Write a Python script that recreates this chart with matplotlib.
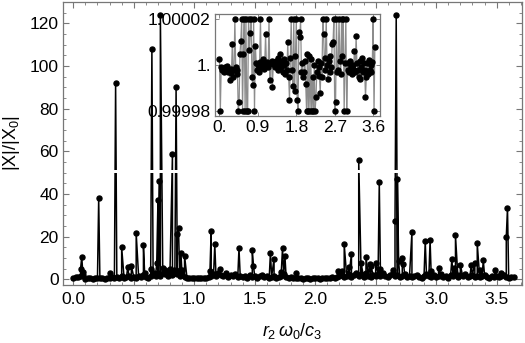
import matplotlib
matplotlib.use('Agg')
import matplotlib.pyplot as plt
import numpy as np
from matplotlib.ticker import MultipleLocator

plt.rcParams['font.family'] = ['Liberation Sans', 'DejaVu Sans']
plt.rcParams['mathtext.fontset'] = 'custom'
plt.rcParams['mathtext.rm'] = 'Liberation Sans'
plt.rcParams['mathtext.it'] = 'Liberation Sans:italic'

# main curve: background level sampled every 0.02 in r2*w0/c3
base_step = 0.02
base_y = [0.8, 1.0, 1.2, 1.5, 2.0,
          0.4, 0.5, 0.6, 0.4, 0.7, 0.5, 0.6, 0.5, 0.4, 0.8, 0.6,
          1.0, 0.6, 1.2, 0.8, 1.5, 0.7, 1.1, 1.8, 0.9,
          1.3, 0.8, 1.6, 1.0, 2.2, 1.2, 0.9, 1.8, 2.5, 1.4, 2.8,
          1.5, 3.2, 2.4, 1.8, 3.5, 2.2, 3.0, 2.6, 1.5, 2.0, 1.0, 0.8,
          0.5, 0.7, 0.6, 0.5, 0.8, 0.6, 0.5, 0.9, 1.2,
          1.8, 2.5, 1.5, 3.0, 2.2, 1.6, 2.8, 1.2, 2.0, 1.5, 2.6, 1.0, 1.8, 1.3,
          1.5, 0.9, 2.0, 1.2, 1.6, 0.8, 1.4, 2.2, 1.0, 1.5, 0.8, 1.3, 1.8, 0.9, 1.2, 1.6, 2.4, 1.1,
          0.8, 1.0, 0.6, 0.7, 0.5, 0.6, 0.4, 0.5, 0.6, 0.4, 0.5, 0.7, 0.5, 0.4, 0.6, 0.5, 0.8, 0.6, 1.0, 0.8, 1.2,
          1.5, 2.2, 1.0, 1.8, 2.5, 1.3, 2.0, 3.0, 1.6, 2.4, 1.2, 2.8, 1.8, 1.0, 2.2,
          1.5, 2.6, 1.4, 3.2, 1.8, 1.1, 2.0, 2.8, 1.5, 2.3, 1.0, 1.7, 2.5, 1.2, 1.8,
          1.0, 1.6, 2.2, 1.2, 0.9, 1.8, 2.6, 1.4, 1.0, 2.0, 1.3, 1.7, 2.4, 1.1, 1.5,
          0.9, 2.1, 1.6, 2.8, 1.2, 1.9, 1.4, 2.5, 1.0, 1.6, 2.2, 1.3, 1.8, 1.0, 1.5,
          2.3, 1.2, 0.9, 1.6, 1.1, 1.8, 1.0, 1.4, 2.0, 1.2, 0.8, 1.3, 1.0]

# resonance peaks
peak_x = [0.06, 0.07, 0.08, 0.21, 0.30, 0.35, 0.40, 0.45, 0.48, 0.52, 0.58, 0.59,
          0.64, 0.65, 0.67, 0.69, 0.70, 0.71, 0.72, 0.74, 0.76, 0.80, 0.82, 0.83,
          0.85, 0.86, 0.87, 0.88, 0.89, 0.90, 0.92, 1.13, 1.14, 1.17, 1.21, 1.37,
          1.48, 1.49, 1.63, 1.66, 1.72, 1.73, 1.75, 1.84, 2.19, 2.22, 2.24, 2.28,
          2.30, 2.36, 2.38, 2.42, 2.45, 2.46, 2.50, 2.53, 2.54, 2.64, 2.66, 2.67,
          2.68, 2.69, 2.72, 2.73, 2.80, 2.91, 2.95, 2.96, 3.02, 3.13, 3.15, 3.16,
          3.20, 3.29, 3.32, 3.34, 3.36, 3.39, 3.49, 3.54, 3.58, 3.59]
peak_y = [4.8, 10.7, 3.7, 38.0, 3.0, 92.0, 15.1, 5.7, 6.3, 21.8, 16.0, 3.0,
          5.0, 108.0, 3.0, 7.6, 37.0, 46.0, 124.0, 5.3, 4.5, 4.8, 59.0, 4.5,
          90.0, 21.5, 24.0, 4.2, 12.3, 4.5, 11.2, 4.0, 22.6, 16.4, 5.0, 14.7,
          13.6, 6.2, 12.4, 9.8, 3.7, 14.7, 10.8, 2.8, 3.9, 4.0, 16.5, 6.0,
          11.9, 56.0, 7.6, 10.4, 7.2, 6.3, 7.7, 45.5, 5.0, 4.4, 27.3, 124.0,
          47.0, 8.7, 9.9, 7.4, 22.2, 17.9, 18.4, 4.0, 5.2, 9.4, 5.5, 20.6,
          7.0, 6.6, 7.7, 16.9, 4.5, 8.9, 4.2, 2.9, 19.8, 33.4]

# inset: deviation from 1 in units of 1e-5 (values at +-2 are clipped)
inset_dev = [0.27, -2, -0.1, -0.2, -0.15, -0.3, -0.1, -0.25, -0.2, -0.05,
             -0.3, -0.2, -0.66, -0.15, -0.35, 0.92, -0.5, -0.2, 2, -0.1,
             -0.4, -0.2, -2, -1.6, 0.5, 1.04, 2, -2, 0.5, 2,
             -2, 2, -2, -2, 2, 0.66, 1.4, 2, -0.5, -0.88,
             2, -2, 0.85, 0.1, -0.2, 0.0, -0.3, 0.13, 2, -0.1,
             0.05, 0.27, -0.15, 0.1, 1.35, 0.0, 0.15, -0.1, 2, -0.66,
             0.1, 0.2, -0.95, 0.05, 0.15, -0.1, 0.2, 0.0, 0.3, -0.2,
             0.1, 0.5, -0.1, 0.2, -0.3, 0.0, 0.25, -0.4, 0.1, -0.2,
             1.0, -0.5, -1.5, 0.3, 2, -0.2, -0.9, 2, -1.1, 0.4,
             2, -1.5, -2, 1.42, 1.2, 2, -0.3, 0.1, -0.5, -0.3,
             0.2, -0.8, -2, 0.5, -2, 0.4, -2, 0.27, -2, -0.5,
             -2, 0.0, -2, -1.38, -0.3, 0.2, -0.1, -0.45, -1.2, 0.1,
             -0.5, 2, 1.35, -0.2, 0.3, 2, 0.0, -0.6, 0.2, -0.3,
             0.4, -0.1, 0.92, 1.0, 2, -2, -1.6, 2, -0.3, -0.2,
             2, 0.2, -0.4, 2, 0.4, 2, -2, 0.1, 2, -2,
             -0.2, 0.1, -0.3, 0.2, -0.1, -0.4, 0.0, -0.2, 0.63, -0.3,
             1.28, 0.1, -0.2, -0.5, 0.2, -0.6, -0.1, 0.3, -0.3, 0.1,
             -0.2, -1.38, -0.5, 0.1, -0.4, 0.23, -0.2, 0.0, -0.3, 0.15,
             2, -2, 0.78]

main_xticks = [0.0, 0.5, 1.0, 1.5, 2.0, 2.5, 3.0, 3.5]
main_yticks = [0, 20, 40, 60, 80, 100, 120]
inset_xticks = [0.0, 0.9, 1.8, 2.7, 3.6]
inset_xlabels = ['0.', '0.9', '1.8', '2.7', '3.6']
inset_yticks = [0.99998, 1.0, 1.00002]
inset_ylabels = ['0.99998', '1.', '1.00002']

base_x = np.arange(len(base_y)) * base_step
x_all = np.concatenate([base_x, peak_x])
y_all = np.concatenate([base_y, peak_y])
order = np.argsort(x_all, kind='stable')
x_all, y_all = x_all[order], y_all[order]

frame_col = '#777777'

fig = plt.figure(figsize=(5.25, 3.43), dpi=100)
ax = fig.add_axes([63 / 525, 1 - 285 / 343, 459 / 525, 283 / 343])

ax.plot(x_all, y_all, color='black', lw=1.1, zorder=2)
# thin white break that cuts the tall spikes in the original rendering
ax.axhspan(49.8, 51.2, color='white', lw=0, zorder=2.5)
ax.plot(x_all, y_all, ls='none', marker='o', ms=3.6, color='black', zorder=3)

ax.set_xlim(-0.085, 3.71)
ax.set_ylim(-2.6, 130)
ax.set_xticks(main_xticks)
ax.set_xticklabels([f'{t:.1f}' for t in main_xticks])
ax.set_yticks(main_yticks)
ax.xaxis.set_minor_locator(MultipleLocator(0.1))
ax.yaxis.set_minor_locator(MultipleLocator(5))
ax.tick_params(which='both', direction='in', top=True, right=True,
               color=frame_col, labelsize=12.5)
ax.tick_params(which='major', length=4.5, width=0.8)
ax.tick_params(which='minor', length=2.5, width=0.6)
ax.tick_params(axis='x', pad=5)
ax.tick_params(axis='y', pad=3)
for s in ax.spines.values():
    s.set_color(frame_col)
    s.set_linewidth(0.9)

ax.set_xlabel(r'$r_2\,\omega_0/c_3$', fontsize=13, labelpad=10)
ax.set_ylabel(r'$\mathrm{|X|/|X_0|}$', fontsize=13, labelpad=6)

# inset
axi = fig.add_axes([215 / 525, 1 - 116 / 343, 165 / 525, 101.7 / 343])
inset_x = np.arange(len(inset_dev)) * base_step
inset_y = 1 + np.array(inset_dev) * 1e-5
axi.plot(inset_x, inset_y, color='#8c8c8c', lw=0.9, zorder=2)
axi.plot(inset_x, inset_y, ls='none', marker='o', ms=3.6, color='black', zorder=3)
axi.set_xlim(-0.105, 3.76)
axi.set_ylim(1 - 2.2e-5, 1 + 2.2e-5)
axi.set_xticks(inset_xticks)
axi.set_xticklabels(inset_xlabels)
axi.set_yticks(inset_yticks)
axi.set_yticklabels(inset_ylabels)
axi.tick_params(direction='in', top=True, right=True, length=3, width=0.6,
                color=frame_col, labelsize=12.5, pad=3)
for s in axi.spines.values():
    s.set_color(frame_col)
    s.set_linewidth(0.9)

fig.savefig('out.png', dpi=100)
